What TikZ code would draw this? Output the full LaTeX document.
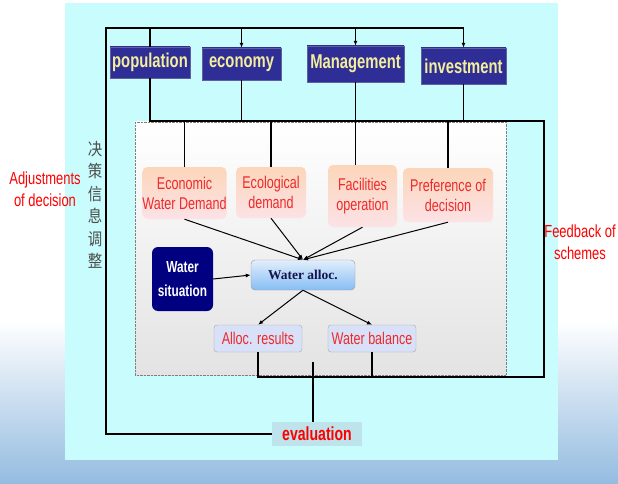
\documentclass[tikz,border=0pt]{standalone}
\usepackage{fontspec}
\setmainfont{Liberation Sans}
\newfontfamily\narrowfont[FakeStretch=0.74]{Liberation Sans}
\newfontfamily\serifbold{Liberation Serif}
\newfontfamily\cjk[FakeStretch=0.85]{Noto Sans CJK SC}
\usetikzlibrary{arrows.meta}

\definecolor{panelcyan}{HTML}{C9FDFD}
\definecolor{seablue}{HTML}{94BCE0}
\definecolor{navybox}{HTML}{2E2E96}
\definecolor{navydark}{HTML}{14144E}
\definecolor{factortext}{HTML}{F4EE9C}
\definecolor{demandred}{HTML}{EE2A2A}
\definecolor{peachtop}{HTML}{FCD6BA}
\definecolor{peachmid}{HTML}{F6A35C}
\definecolor{pinkbot}{HTML}{FCE2E6}
\definecolor{alloctop}{HTML}{E2EEFC}
\definecolor{allocbot}{HTML}{86BEF4}
\definecolor{resultfill}{HTML}{D9E1F8}
\definecolor{evalfill}{HTML}{BEE3EA}

\begin{document}
\begin{tikzpicture}[
  x=1pt,y=-1pt,
  >={Latex[length=5pt,width=4pt]},
  link/.style={line width=1.3pt},
  flow/.style={->,line width=1.3pt},
  factor/.style={draw=blue!25!gray,thin,top color=navybox,middle color=navydark,bottom color=navybox,text=factortext,inner sep=0pt,font=\narrowfont\bfseries\fontsize{20}{22}\selectfont},
  demand/.style={rounded corners=5pt,top color=peachtop,middle color=peachmid,bottom color=pinkbot,text=demandred,align=center,inner sep=0pt,font=\narrowfont\fontsize{17}{20}\selectfont},
  result/.style={draw=gray!70,rounded corners=3pt,fill=resultfill,text=demandred,inner sep=0pt,font=\narrowfont\fontsize{17}{18}\selectfont},
  note/.style={text=red,align=center,font=\narrowfont\fontsize{17.5}{22.5}\selectfont}
]
\useasboundingbox (0,0) rectangle (618,484);
% background and panels
\fill[white] (0,0) rectangle (618,484);
\shade[top color=white,bottom color=seablue] (0,320) rectangle (618,484);
\fill[panelcyan] (65,3) rectangle (558,460);
\draw[gray,densely dotted,top color=white,bottom color=gray!22] (135,122) rectangle (506,375);

% input factors
\node[factor,minimum width=80,minimum height=31] (pop) at (150,62.5) {population};
\node[factor,minimum width=79,minimum height=32] (eco) at (241.5,64) {economy};
\node[factor,minimum width=97,minimum height=36] (man) at (355.5,64) {Management};
\node[factor,minimum width=85,minimum height=36] (inv) at (463.5,66) {investment};

% demands
\node[demand,minimum width=81,minimum height=52] (ewd) at (184.5,193) {Economic\\Water Demand};
\node[demand,minimum width=70,minimum height=51] (ecd) at (271,192.5) {Ecological\\demand};
\node[demand,minimum width=69,minimum height=62] (fac) at (362.5,196) {Facilities\\operation};
\node[demand,minimum width=90,minimum height=54] (pref) at (448,195) {Preference of\\decision};

\node[fill=blue!50!black,rounded corners=6pt,text=white,align=center,inner sep=0pt,minimum width=61,minimum height=64,font=\narrowfont\bfseries\fontsize{16}{24}\selectfont] (wsit) at (182.5,279) {Water\\situation};
\node[draw=gray!80,rounded corners=4pt,top color=alloctop,bottom color=allocbot,text=navydark,inner sep=0pt,minimum width=104,minimum height=30,font=\serifbold\bfseries\fontsize{13.5}{16}\selectfont] (walloc) at (303,275) {Water alloc.};

\node[result,minimum width=88,minimum height=27] (ares) at (258,338.5) {Alloc. results};
\node[result,minimum width=88,minimum height=27] (wbal) at (372,338.5) {Water balance};

\node[fill=evalfill,text=red,inner sep=0pt,minimum width=90,minimum height=24,font=\narrowfont\bfseries\fontsize{19}{20}\selectfont] (eval) at (317,434) {evaluation};

% side texts
\node[note] (adj) at (45,189) {Adjustments\\of decision};
\node[note] (fbk) at (580,242) {Feedback of\\schemes};
\node[text=gray!60!black,align=center,font=\cjk\fontsize{17}{22.5}\selectfont] (vert) at (95,205) {决\\策\\信\\息\\调\\整};

% connectors
\coordinate (top) at (106,28);
\coordinate (bus) at (150,121);
\coordinate (fbr) at (544,377);
\coordinate (ev) at (313,362);

\draw[flow] (eval.west) -| (top) -| (inv.north);
\draw[link] (pop.north |- top) -- (pop.north);
\foreach \f in {eco,man}
  \draw[flow] (\f.north |- top) -- (\f.north);

\draw[link] (pop.south) -- (bus) -- (bus -| fbr) -- (fbr) -- (ares.south |- fbr) -- (ares.south);
\draw[link] (wbal.south) -- (wbal.south |- fbr);
\draw[link] (eco.south) -- (eco.south |- bus);
\draw[link] (inv.south) -- (inv.south |- bus);
\draw[link] (man.south) -- (man.south |- fac.north);
\foreach \d in {ewd,ecd,pref}
  \draw[link] (\d.north |- bus) -- (\d.north);

\foreach \d in {ewd,ecd,fac,pref}
  \draw[flow,line width=1pt] (\d.south) -- (walloc.north);
\draw[flow,line width=1pt] (wsit.east) -- (walloc.west);
\draw[flow,line width=1pt] (walloc.south) -- (ares.north);
\draw[flow,line width=1pt] (walloc.south) -- (wbal.north);
\draw[link] (ev) -- (ev |- eval.north);
\end{tikzpicture}
\end{document}
